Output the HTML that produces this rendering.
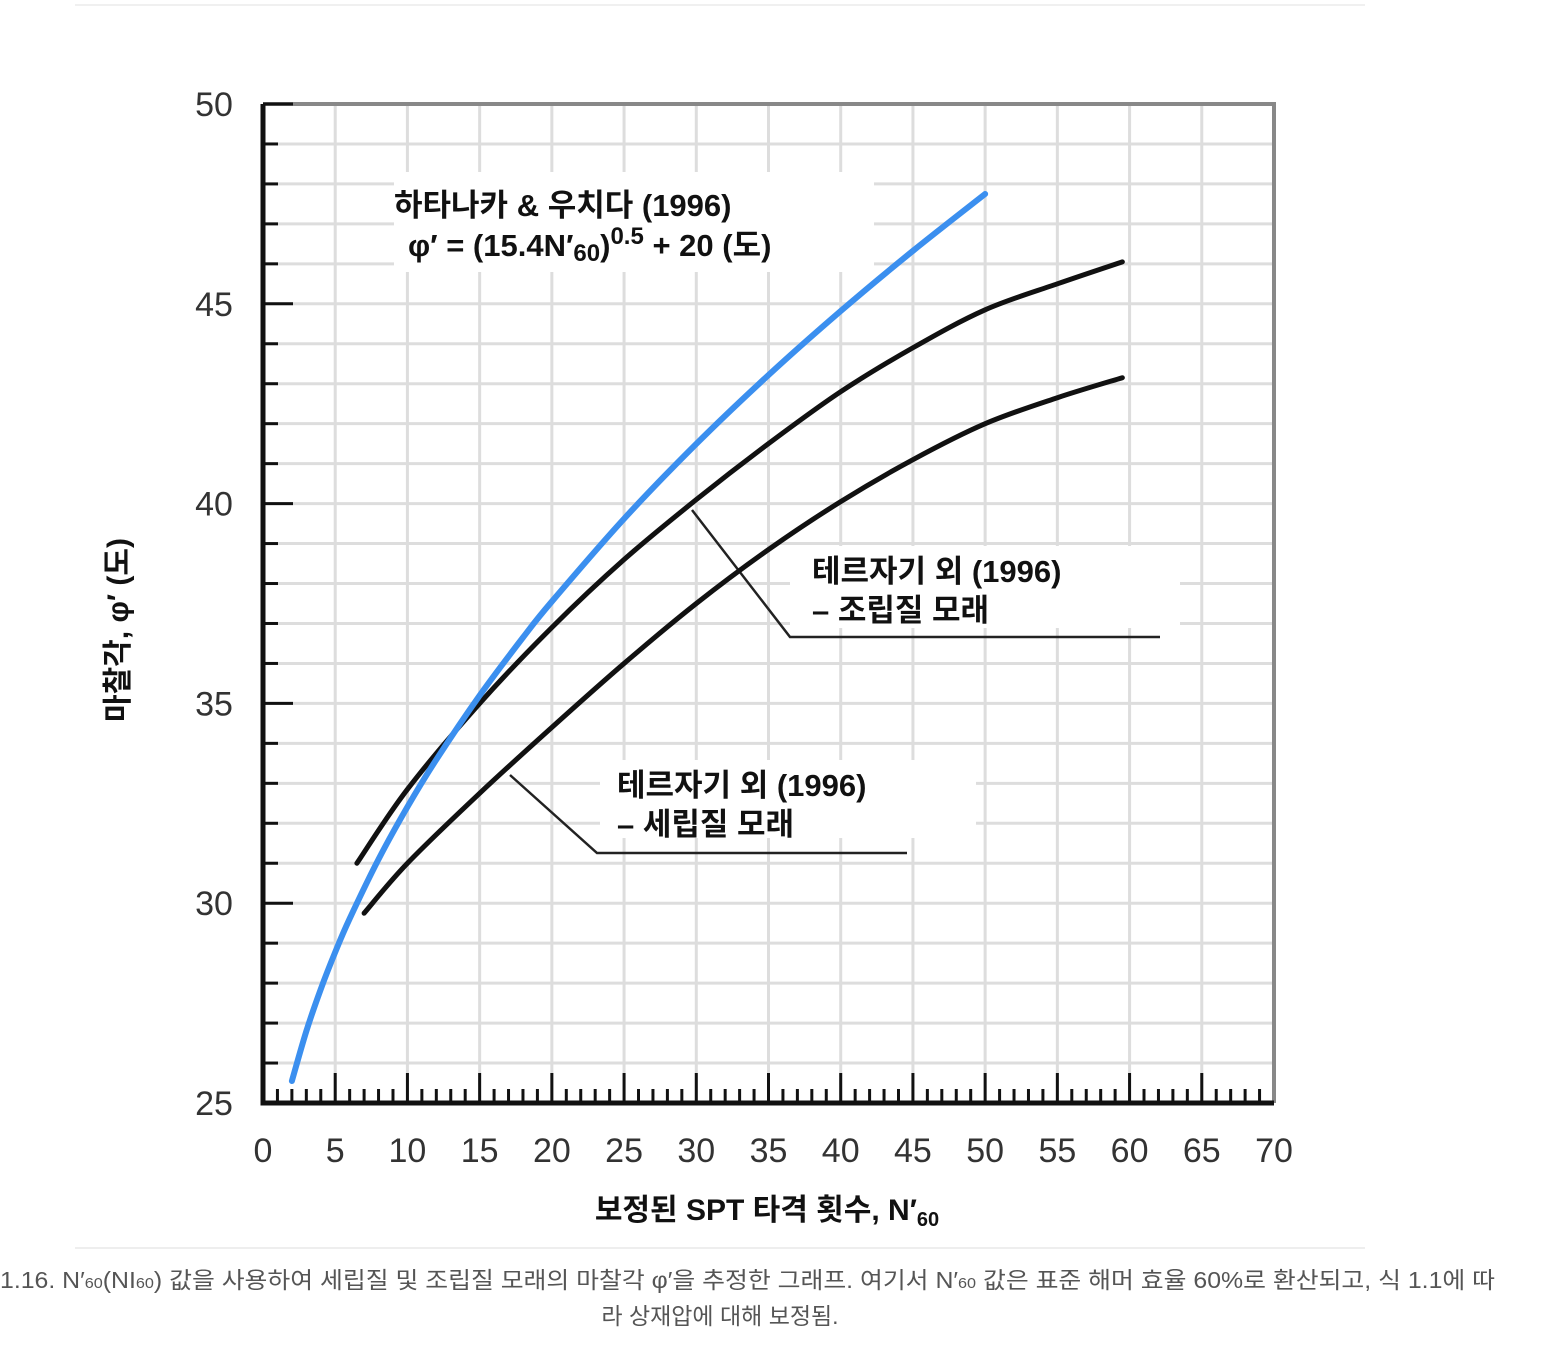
<!DOCTYPE html>
<html><head><meta charset="utf-8">
<style>
body{margin:0;background:#fff;width:1560px;height:1346px;overflow:hidden;font-family:"Liberation Sans","Noto Sans CJK KR",sans-serif;}
svg text{font-family:"Liberation Sans","Noto Sans CJK KR",sans-serif;}
</style></head>
<body>
<svg id="chart" width="1560" height="1346" viewBox="0 0 1560 1346" xmlns="http://www.w3.org/2000/svg">
<line x1="75" y1="5" x2="1365" y2="5" stroke="#f0f0f0" stroke-width="2"/>
<g id="grid"></g>
<g id="labels"></g>
<g id="marks"></g>
<g id="axes"></g>
<g id="labeltext"></g>
<text x="128" y="630" transform="rotate(-90 128 630)" text-anchor="middle" font-size="30" font-weight="bold" fill="#111">마찰각, φ′ (도)</text>
<text x="767" y="1220" text-anchor="middle" font-size="30" font-weight="bold" fill="#111">보정된 SPT 타격 횟수, N′<tspan font-size="20" dy="6">60</tspan></text>
<line x1="75" y1="1248" x2="1365" y2="1248" stroke="#eee" stroke-width="2"/>
<text x="0" y="1288" textLength="1495" lengthAdjust="spacingAndGlyphs" font-size="23" fill="#555">1.16. N′<tspan font-size="15">60</tspan>(NI<tspan font-size="15">60</tspan>) 값을 사용하여 세립질 및 조립질 모래의 마찰각 φ′을 추정한 그래프. 여기서 N′<tspan font-size="15">60</tspan> 값은 표준 해머 효율 60%로 환산되고, 식 1.1에 따</text>
<text x="720" y="1324" text-anchor="middle" font-size="23" fill="#555">라 상재압에 대해 보정됨.</text>
</svg>
<script>
const xTicks=[0,5,10,15,20,25,30,35,40,45,50,55,60,65,70];
const yTicks=[25,30,35,40,45,50];
const blueN=[2,3,4,5,6,8,10,12,15,18,20,25,30,35,40,45,50];
const coarseN=[6.5,10,15,20,25,30,35,40,45,50,55,59.5];
const coarsePhi=[31.0,32.85,35.0,36.9,38.6,40.1,41.5,42.8,43.9,44.85,45.5,46.05];
const fineN=[7,10,15,20,25,30,35,40,45,50,55,59.5];
const finePhi=[29.75,31.0,32.75,34.4,36.0,37.5,38.85,40.05,41.1,42.0,42.65,43.15];
const blueA=15.4, blueB=20;

const X0=263,X1=1274,Y0=1103,Y1=104;
const sx=v=>X0+(v-0)*(X1-X0)/70;
const sy=v=>Y0-(v-25)*(Y0-Y1)/25;
const NS="http://www.w3.org/2000/svg";
function mk(tag,attrs,parent){const e=document.createElementNS(NS,tag);for(const k in attrs)e.setAttribute(k,attrs[k]);parent.appendChild(e);return e;}
const grid=document.getElementById('grid'),axes=document.getElementById('axes'),marks=document.getElementById('marks'),labels=document.getElementById('labels'),labeltext=document.getElementById('labeltext');

for(let v=5;v<70;v+=5){const l=mk('line',{x1:sx(v),y1:Y1,x2:sx(v),y2:Y0,stroke:'#ddd','stroke-width':3},grid);

}
for(let v=26;v<50;v++){const l=mk('line',{x1:X0,y1:sy(v),x2:X1,y2:sy(v),stroke:'#ddd','stroke-width':3},grid);

}

let b=mk('path',{d:`M${X0},${Y1}H${X1}V${Y0}`,fill:'none',stroke:'#888','stroke-width':4},axes);


let ax=mk('path',{d:`M${X0},${Y1}V${Y0}H${X1}`,fill:'none',stroke:'#111','stroke-width':5},axes);


for(let v=1;v<70;v++){const major=v%5===0;const t=mk('line',{x1:sx(v),y1:Y0,x2:sx(v),y2:Y0-(major?30:14),stroke:'#111','stroke-width':3},axes);

}
for(let v=26;v<=50;v++){const major=v%5===0;const t=mk('line',{x1:X0,y1:sy(v),x2:X0+(major?30:15),y2:sy(v),stroke:'#111','stroke-width':3},axes);

}
xTicks.forEach(v=>{const t=mk('text',{x:sx(v),y:1162,'text-anchor':'middle','font-size':34,fill:'#333'},axes);t.textContent=v;

});
yTicks.forEach(v=>{const t=mk('text',{x:214,y:sy(v)+12,'text-anchor':'middle','font-size':34,fill:'#333'},axes);t.textContent=v;

});

function curve(xs,ys,color,w,name){
  const pts=xs.map((x,i)=>[sx(x),sy(ys[i])]);
  let d=`M${pts[0][0]},${pts[0][1]}`;
  for(let i=0;i<pts.length-1;i++){const p0=pts[i-1]||pts[i],p1=pts[i],p2=pts[i+1],p3=pts[i+2]||p2;
    d+=`C${p1[0]+(p2[0]-p0[0])/6},${p1[1]+(p2[1]-p0[1])/6} ${p2[0]-(p3[0]-p1[0])/6},${p2[1]-(p3[1]-p1[1])/6} ${p2[0]},${p2[1]}`;}
  const p=mk('path',{d,fill:'none',stroke:color,'stroke-width':w,'stroke-linecap':'round'},marks);
  
  
}
curve(coarseN,coarsePhi,'#111',5,'coarse-sand-curve');
curve(fineN,finePhi,'#111',5,'fine-sand-curve');
curve(blueN,blueN.map(n=>Math.sqrt(blueA*n)+blueB),'#3b8fef',6,'hatanaka-uchida-curve');

function box(x,y,w,h,name){const r=mk('rect',{x,y,width:w,height:h,fill:'#fff'},labels);

}
function txt(x,y,s,name){const t=mk('text',{x,y,'font-size':31,fill:'#111','font-weight':'600'},labeltext);t.innerHTML=s;

}
function lead(d,name){const p=mk('path',{d,fill:'none',stroke:'#222','stroke-width':2.5},labels);

}
box(394,172,480,100,'hatanaka-label-bg');
txt(394,216,'하타나카 &amp; 우치다 (1996)','hatanaka-label');
txt(408,256,'φ′ = (15.4N′<tspan font-size="24" dy="5">60</tspan><tspan dy="-5">)</tspan><tspan font-size="24" dy="-12">0.5</tspan><tspan dy="12"> + 20 (도)</tspan>','hatanaka-equation');
box(790,546,390,82,'coarse-label-bg');
lead('M692,510L790,637H1160','coarse-leader-line');
txt(812,582,'테르자기 외 (1996)','coarse-label');
txt(812,621,'– 조립질 모래','coarse-label-2');
box(600,760,376,78,'fine-label-bg');
lead('M510,775L597,853H907','fine-leader-line');
txt(617,796,'테르자기 외 (1996)','fine-label');
txt(617,835,'– 세립질 모래','fine-label-2');
</script>
</body></html>
